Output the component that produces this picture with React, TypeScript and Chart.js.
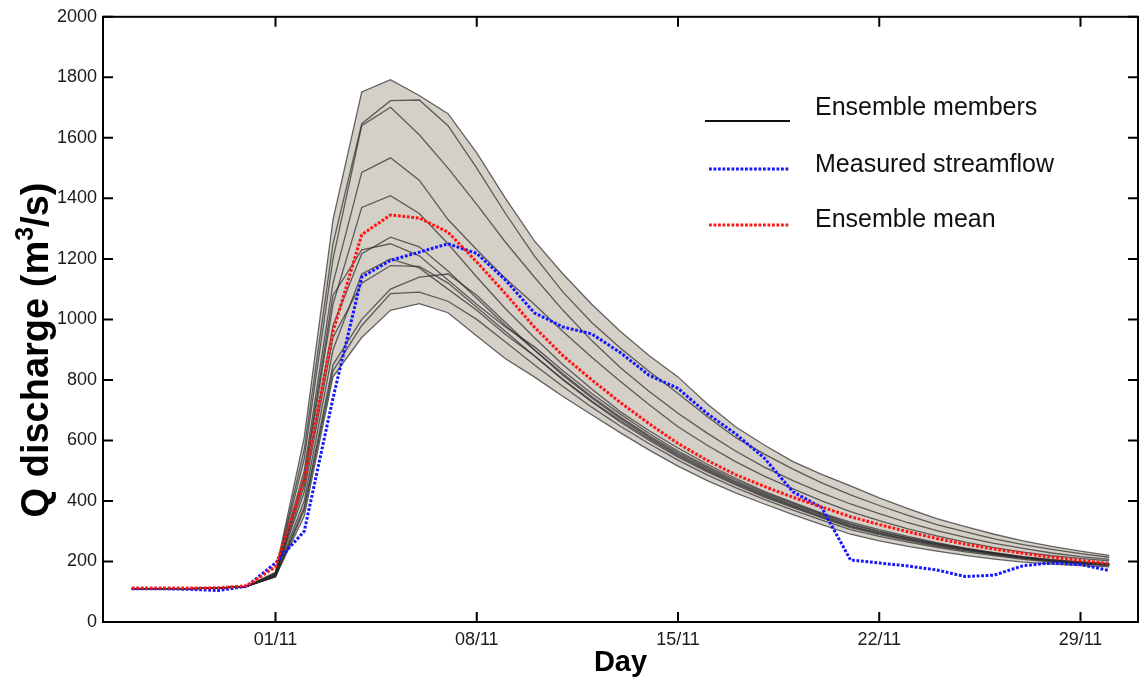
import React, { useEffect, useRef } from 'react';
import { Chart, registerables } from 'chart.js';

Chart.register(...registerables);

const dates = [
  '27/10', '28/10', '29/10', '30/10', '31/10',
  '01/11', '02/11', '03/11', '04/11', '05/11', '06/11', '07/11', '08/11', '09/11', '10/11',
  '11/11', '12/11', '13/11', '14/11', '15/11', '16/11', '17/11', '18/11', '19/11', '20/11',
  '21/11', '22/11', '23/11', '24/11', '25/11', '26/11', '27/11', '28/11', '29/11', '30/11',
];

const tickLabels = ['01/11', '08/11', '15/11', '22/11', '29/11'];

const measuredStreamflow = [
  110, 110, 108, 104, 118, 195, 300, 740, 1140, 1195, 1222, 1250, 1218, 1130, 1022,
  975, 952, 890, 815, 772, 690, 622, 542, 430, 378, 205, 195, 185, 172, 150,
  155, 186, 195, 190, 170,
];

const ensembleMean = [
  112, 112, 112, 113, 120, 182, 470, 960, 1280, 1345, 1335, 1288, 1190, 1085, 975,
  880, 800, 725, 655, 590, 535, 487, 448, 412, 380, 348, 322, 298, 276, 257,
  241, 227, 214, 203, 193,
];

const member01 = [110, 110, 110, 112, 118, 165, 610, 1330, 1752, 1792, 1740, 1680, 1550, 1400, 1260, 1150, 1050, 960, 880, 810, 722, 645, 585, 530, 488, 450, 410, 375, 342, 315, 290, 268, 250, 234, 220];
const member02 = [110, 110, 110, 112, 118, 162, 570, 1250, 1647, 1723, 1725, 1640, 1500, 1350, 1210, 1090, 990, 905, 828, 755, 680, 610, 555, 505, 460, 420, 385, 352, 322, 298, 275, 256, 240, 226, 214];
const member03 = [110, 110, 110, 112, 118, 160, 540, 1200, 1640, 1701, 1610, 1500, 1380, 1255, 1140, 1030, 930, 840, 762, 690, 625, 565, 512, 467, 427, 390, 358, 328, 302, 280, 260, 243, 228, 216, 207];
const member04 = [110, 110, 110, 112, 118, 158, 500, 1120, 1486, 1534, 1460, 1330, 1230, 1135, 1050, 960, 875, 795, 718, 645, 585, 530, 482, 440, 400, 365, 335, 308, 285, 264, 246, 231, 219, 210, 202];
const member05 = [110, 110, 110, 112, 118, 156, 470, 1050, 1370, 1409, 1350, 1250, 1140, 1035, 940, 850, 770, 695, 632, 575, 522, 475, 432, 395, 360, 330, 305, 283, 262, 244, 229, 216, 206, 199, 193];
const member06 = [110, 110, 110, 112, 118, 155, 450, 980, 1217, 1272, 1240, 1160, 1070, 980, 900, 820, 745, 677, 615, 560, 510, 465, 424, 388, 354, 322, 298, 277, 258, 241, 227, 214, 204, 197, 191];
const member07 = [110, 110, 110, 112, 118, 155, 430, 940, 1120, 1178, 1175, 1120, 1040, 960, 880, 802, 730, 665, 605, 550, 501, 457, 417, 381, 347, 315, 292, 272, 254, 238, 224, 212, 202, 195, 189];
const member08 = [110, 110, 110, 112, 118, 150, 380, 850, 1000, 1100, 1140, 1150, 1080, 990, 900, 815, 740, 672, 610, 555, 505, 461, 420, 384, 350, 318, 294, 274, 256, 240, 226, 213, 203, 196, 190];
const member09 = [110, 110, 110, 112, 118, 150, 370, 830, 980, 1085, 1090, 1060, 1000, 925, 850, 778, 710, 647, 589, 535, 487, 444, 405, 370, 337, 305, 283, 264, 247, 232, 219, 207, 198, 191, 186];
const member10 = [110, 110, 110, 112, 118, 150, 350, 810, 940, 1030, 1052, 1022, 945, 870, 810, 745, 685, 625, 568, 515, 468, 427, 390, 355, 322, 290, 268, 250, 234, 220, 208, 198, 191, 186, 182];
const member11 = [110, 110, 110, 112, 118, 158, 480, 1080, 1230, 1250, 1210, 1130, 1050, 975, 910, 830, 755, 687, 623, 565, 515, 470, 428, 392, 357, 325, 300, 279, 260, 243, 228, 215, 205, 198, 192];
const member12 = [110, 110, 110, 112, 118, 152, 400, 900, 1150, 1200, 1170, 1100, 1030, 950, 880, 800, 727, 660, 600, 545, 497, 453, 413, 378, 344, 312, 289, 269, 251, 236, 222, 210, 200, 193, 188];

const members = [member01, member02, member03, member04, member05, member06, member07, member08, member09, member10, member11, member12];

const legendItems = [
  { label: 'Ensemble members', color: '#111111', dash: [] as number[], width: 2 },
  { label: 'Measured streamflow', color: '#1515ff', dash: [2.8, 1.7], width: 3 },
  { label: 'Ensemble mean', color: '#ff1515', dash: [2.8, 1.7], width: 3 },
];

const FONT = '"Liberation Sans", Arial, sans-serif';

export default function App() {
  const ref = useRef<HTMLCanvasElement>(null);

  useEffect(() => {
    document.body.style.margin = '0';
    const canvas = ref.current;
    if (!canvas) return;

    const pts = (arr: number[]) => arr.map((y, i) => ({ x: i, y }));
    const upper = dates.map((_, i) => Math.max(...members.map((m) => m[i])));
    const lower = dates.map((_, i) => Math.min(...members.map((m) => m[i])));
    const tickPos = tickLabels.map((l) => dates.indexOf(l));

    const framePlugin = {
      id: 'frameAndLegend',
      afterDraw(chart: any) {
        const { ctx, chartArea: a, scales } = chart;
        ctx.save();
        ctx.strokeStyle = '#000';
        ctx.lineWidth = 2;
        ctx.strokeRect(a.left, a.top, a.right - a.left, a.bottom - a.top);
        const L = 10;
        ctx.beginPath();
        scales.y.ticks.forEach((t: any) => {
          const y = scales.y.getPixelForValue(t.value);
          ctx.moveTo(a.left, y);
          ctx.lineTo(a.left + L, y);
          ctx.moveTo(a.right, y);
          ctx.lineTo(a.right - L, y);
        });
        scales.x.ticks.forEach((t: any) => {
          const x = scales.x.getPixelForValue(t.value);
          ctx.moveTo(x, a.bottom);
          ctx.lineTo(x, a.bottom - L);
          ctx.moveTo(x, a.top);
          ctx.lineTo(x, a.top + L);
        });
        ctx.stroke();

        // legend
        const rowsText = [108, 165, 220];
        const rowsLine = [121, 169, 225];
        legendItems.forEach((it, i) => {
          ctx.beginPath();
          ctx.strokeStyle = it.color;
          ctx.lineWidth = it.width;
          ctx.setLineDash(it.dash);
          ctx.moveTo(i === 0 ? 705 : 709, rowsLine[i]);
          ctx.lineTo(790, rowsLine[i]);
          ctx.stroke();
          ctx.setLineDash([]);
          ctx.fillStyle = '#111';
          ctx.font = '25px ' + FONT;
          ctx.textBaseline = 'middle';
          ctx.textAlign = 'left';
          ctx.fillText(it.label, 815, rowsText[i]);
        });

        // y axis title with superscript
        ctx.save();
        ctx.translate(38, 350);
        ctx.rotate(-Math.PI / 2);
        ctx.fillStyle = '#000';
        ctx.textBaseline = 'middle';
        ctx.textAlign = 'left';
        const mainFont = 'bold 38px ' + FONT;
        const supFont = 'bold 25px ' + FONT;
        const p1 = 'Q discharge (m';
        const p2 = '3';
        const p3 = '/s)';
        ctx.font = mainFont;
        const w1 = ctx.measureText(p1).width;
        const w3 = ctx.measureText(p3).width;
        ctx.font = supFont;
        const w2 = ctx.measureText(p2).width;
        const total = w1 + w2 + w3;
        let xx = -total / 2;
        ctx.font = mainFont;
        ctx.fillText(p1, xx, 0);
        xx += w1;
        ctx.font = supFont;
        ctx.fillText(p2, xx, -12);
        xx += w2;
        ctx.font = mainFont;
        ctx.fillText(p3, xx, 0);
        ctx.restore();

        ctx.restore();
      },
    };

    const memberSets = members.map((m, i) => ({
      label: 'member ' + (i + 1),
      data: pts(m),
      borderColor: 'rgba(40,40,40,0.7)',
      borderWidth: 1.3,
      pointRadius: 0,
      fill: false,
      order: 5,
      tension: 0,
    }));

    const chart = new Chart(canvas, {
      type: 'line',
      data: {
        datasets: [
          {
            label: 'upper',
            data: pts(upper),
            borderWidth: 0,
            borderColor: 'rgba(0,0,0,0)',
            pointRadius: 0,
            fill: false,
            order: 10,
          },
          {
            label: 'lower',
            data: pts(lower),
            borderWidth: 0,
            borderColor: 'rgba(0,0,0,0)',
            backgroundColor: 'rgb(212,208,200)',
            pointRadius: 0,
            fill: '-1',
            order: 10,
          },
          ...memberSets,
          {
            label: 'Measured streamflow',
            data: pts(measuredStreamflow),
            borderColor: '#1515ff',
            borderWidth: 3,
            borderDash: [2.8, 1.7],
            pointRadius: 0,
            fill: false,
            order: 2,
          },
          {
            label: 'Ensemble mean',
            data: pts(ensembleMean),
            borderColor: '#ff1515',
            borderWidth: 3,
            borderDash: [2.8, 1.7],
            pointRadius: 0,
            fill: false,
            order: 1,
          },
        ] as any,
      },
      options: {
        animation: false,
        responsive: false,
        layout: { padding: { top: 16, right: 3, left: 0, bottom: 0 } },
        plugins: {
          legend: { display: false },
          tooltip: { enabled: false },
        },
        scales: {
          x: {
            type: 'linear',
            min: -1,
            max: 35,
            grid: { display: false, drawTicks: false, tickLength: 0 },
            border: { display: false },
            afterFit(scale: any) {
              scale.height = 66;
            },
            afterBuildTicks(scale: any) {
              scale.ticks = tickPos.map((v) => ({ value: v }));
            },
            ticks: {
              autoSkip: false,
              maxRotation: 0,
              padding: 7,
              color: '#1a1a1a',
              font: { family: FONT, size: 18 },
              callback: (v: any) => {
                const idx = tickPos.indexOf(Number(v));
                return idx >= 0 ? tickLabels[idx] : '';
              },
            },
            title: {
              display: true,
              text: 'Day',
              color: '#000',
              font: { family: FONT, size: 29, weight: 'bold' },
              padding: { top: 0, bottom: 8 },
            },
          },
          y: {
            min: 0,
            max: 2000,
            grid: { display: false, drawTicks: false, tickLength: 0 },
            border: { display: false },
            afterFit(scale: any) {
              scale.width = 103;
            },
            ticks: {
              stepSize: 200,
              padding: 6,
              color: '#1a1a1a',
              font: { family: FONT, size: 18 },
              callback: (v: any) => String(v),
            },
            title: { display: false },
          },
        },
      } as any,
      plugins: [framePlugin],
    });

    return () => chart.destroy();
  }, []);

  return (
    <div style={{ width: 1141, height: 688 }}>
      <canvas ref={ref} width={1141} height={688} style={{ display: 'block' }} />
    </div>
  );
}
